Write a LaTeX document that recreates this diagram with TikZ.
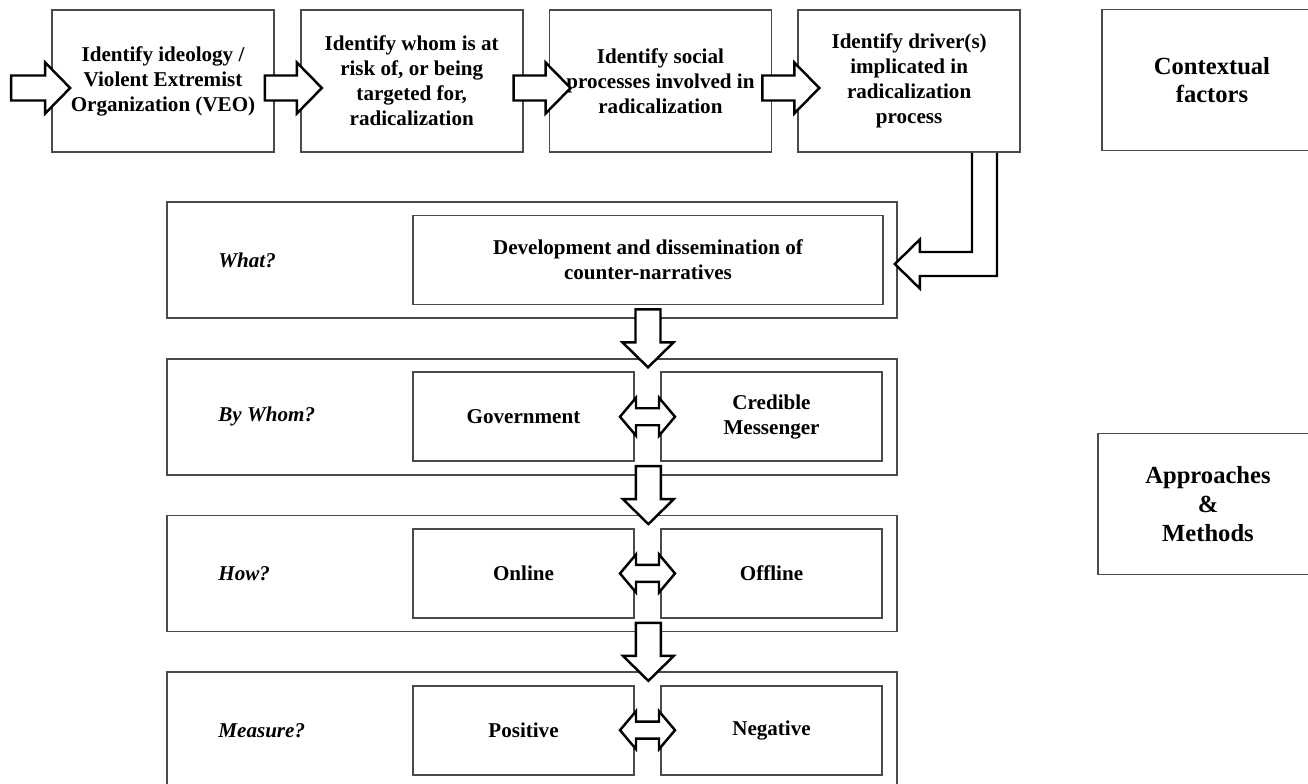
\documentclass[tikz,border=0pt]{standalone}
\usepackage{fontspec}
\setmainfont{Liberation Serif}
\usepackage{xcolor}
\usetikzlibrary{positioning,calc}
\definecolor{boxgray}{HTML}{4A4A4A}

% hollow block arrow: #1 tail point, #2 direction, #3 length
\newcommand{\blockarrow}[3]{%
  \begin{scope}[shift={#1},rotate=#2]
    \draw[arrowline] (0,-12.5) -- (#3-25,-12.5) -- (#3-25,-25.5) -- (#3,0) -- (#3-25,25.5) -- (#3-25,12.5) -- (0,12.5) -- cycle;
  \end{scope}}
% two-way block arrow centred on #1
\newcommand{\twowayarrow}[1]{%
  \begin{scope}[shift={#1}]
    \draw[arrowline] (-27.5,0) -- (-11.5,-19) -- (-11.5,-8.5) -- (11.5,-8.5) -- (11.5,-19) -- (27.5,0) -- (11.5,19) -- (11.5,8.5) -- (-11.5,8.5) -- (-11.5,19) -- cycle;
  \end{scope}}

\begin{document}
\begin{tikzpicture}[x=0.02cm, y=-0.02cm,
        every node/.style={align=center, font=\fontsize{12}{14.2}\selectfont\bfseries},
        box/.style={draw=boxgray, line width=1pt},
        stepbox/.style={box, minimum width=4.44cm, minimum height=2.84cm},
        sidebox/.style={box, minimum width=4.4cm, minimum height=2.82cm, font=\fontsize{14}{16.4}\selectfont\bfseries},
        panel/.style={box, minimum width=14.6cm, minimum height=2.32cm},
        choice/.style={box, minimum width=4.42cm, minimum height=1.78cm},
        question/.style={anchor=west, font=\fontsize{12}{14.2}\selectfont\bfseries\itshape},
        arrowline/.style={draw=black, fill=white, line width=1.4pt, line join=miter}]
    \useasboundingbox (0,0) rectangle (1308,784);
    \clip (0,0) rectangle (1308,784);

    % top row
    \node[stepbox] (ideo) at (163,81) {Identify ideology /\\Violent Extremist\\Organization (VEO)};
    \node[stepbox, right=0.5cm of ideo] (risk) {Identify whom is at\\risk of, or being\\targeted for,\\radicalization};
    \node[stepbox, right=0.5cm of risk] (social) {Identify social\\processes involved in\\radicalization};
    \node[stepbox, right=0.5cm of social] (driver) {Identify driver(s)\\implicated in\\radicalization\\process};

    \node[sidebox] (context) at (1212,80) {Contextual\\factors};
    \node[sidebox] (approach) at (1208,504) {Approaches\\\&\\Methods};

    % panels
    \node[panel] (what) at (532,260) {};
    \node[panel, below=0.78cm of what] (whom) {};
    \node[panel, below=0.78cm of whom] (how) {};
    \node[panel, below=0.78cm of how] (measure) {};

    \node[question] (qwhat) at ($(what.west)+(46,0)$) {What?};
    \node[question] (qwhom) at ($(whom.west)+(46,0)$) {By Whom?};
    \node[question] (qhow) at ($(how.west)+(46,0)$) {How?};
    \node[question] (qmeasure) at ($(measure.west)+(46,0)$) {Measure?};

    \node[choice, minimum width=9.4cm] (dev) at ($(what)+(116,0)$) {Development and dissemination of\\counter-narratives};
    \node[choice] (gov) at ($(whom)+(-8.5,0)$) {Government};
    \node[choice] (cred) at ($(whom)+(239.5,0)$) {Credible\\Messenger};
    \node[choice] (online) at ($(how)+(-8.5,0)$) {Online};
    \node[choice] (offline) at ($(how)+(239.5,0)$) {Offline};
    \node[choice] (pos) at ($(measure)+(-8.5,0)$) {Positive};
    \node[choice] (neg) at ($(measure)+(239.5,0)$) {Negative};

    % arrows
    \blockarrow{($(ideo.west)+(-40,7)$)}{0}{59}
    \blockarrow{($(ideo.east)+(-10,7)$)}{0}{57}
    \blockarrow{($(risk.east)+(-10,7)$)}{0}{57}
    \blockarrow{($(social.east)+(-10,7)$)}{0}{57}

    \coordinate (lturn) at ($(driver.south east)+(-36.5,0)$);
    \coordinate (ltip) at ($(what.east)+(-3,4)$);
    \draw[arrowline] ($(lturn)+(-12.5,0)$) |- ($(ltip)+(25,-12)$) -- ++(0,-12.5) -- (ltip) -- ++(25,24.5) -- ++(0,-12.5) -| ($(lturn)+(12.5,0)$);

    \blockarrow{($(dev.south)+(0,4)$)}{-90}{58}
    \blockarrow{($(gov.south east)+(13.5,4)$)}{-90}{58}
    \blockarrow{($(online.south east)+(13.5,4)$)}{-90}{58}

    \twowayarrow{($(gov.east)!0.5!(cred.west)$)}
    \twowayarrow{($(online.east)!0.5!(offline.west)$)}
    \twowayarrow{($(pos.east)!0.5!(neg.west)$)}
\end{tikzpicture}
\end{document}
